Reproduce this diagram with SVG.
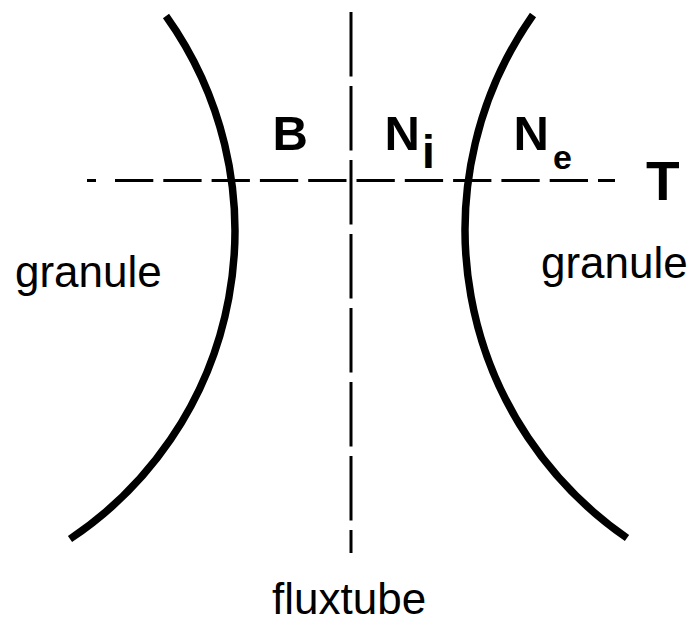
<svg xmlns="http://www.w3.org/2000/svg" width="694" height="631" viewBox="0 0 694 631">
<style>
.curve{fill:none;stroke:#000;stroke-width:7.5;stroke-linecap:butt}
.dash{fill:none;stroke:#000;stroke-width:3}
.lbl{font-family:"Liberation Sans",Arial,Helvetica,sans-serif;fill:#000}
.b{font-weight:bold}
</style>
<rect width="694" height="631" fill="#fff"/>
<g id="connectors">
<path id="left-boundary" class="curve" d="M166,16 A370,370 0 0 1 70,539"/>
<path id="right-boundary" class="curve" d="M533,15 A374,374 0 0 0 627,538"/>
<path id="fluxtube-axis" class="dash" d="M351,12 V553" stroke-dasharray="64.5 9.5"/>
<path id="T-line-start" class="dash" d="M87,180.5 H96"/>
<path id="T-line" class="dash" d="M115,180.5 H615" stroke-dasharray="38.3 10"/>
</g>
<g id="label-B"><text class="lbl b" x="272.5" y="150" font-size="49">B</text></g>
<g id="label-Ni"><text class="lbl b" x="384.5" y="150" font-size="49">N</text><text class="lbl b" x="422" y="168" font-size="46">i</text></g>
<g id="label-Ne"><text class="lbl b" x="513.5" y="150" font-size="49">N</text><text class="lbl b" x="553" y="169" font-size="34">e</text></g>
<g id="label-T"><text class="lbl b" x="646" y="200" font-size="55">T</text></g>
<g id="granule-left"><text class="lbl" x="15" y="287" font-size="44">granule</text></g>
<g id="granule-right"><text class="lbl" x="541" y="278" font-size="44">granule</text></g>
<g id="fluxtube"><text class="lbl" x="272" y="614" font-size="44">fluxtube</text></g>
</svg>
